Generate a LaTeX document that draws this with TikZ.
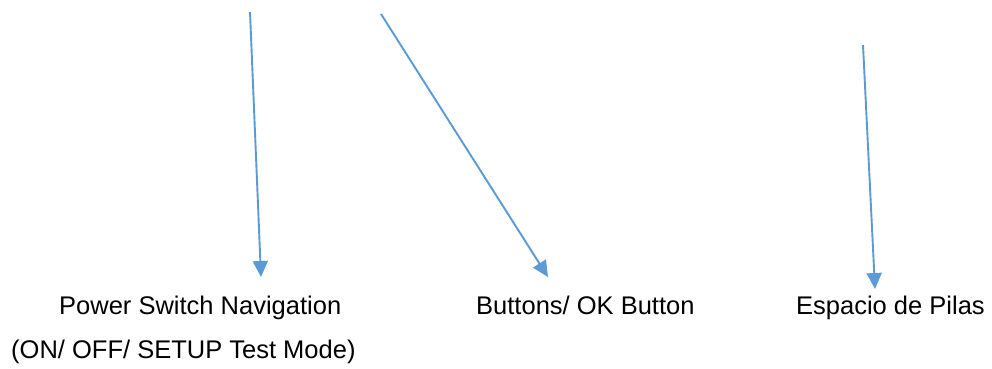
\documentclass[tikz,border=0pt]{standalone}
\usepackage{fontspec}
\setmainfont{Liberation Sans}
\usetikzlibrary{arrows.meta}
\definecolor{callout}{HTML}{5B9BD5}
\tikzset{
  pointer/.style={draw=callout, line width=1.9pt,
    -{Triangle[length=16pt,width=15pt]}},
  caption/.style={anchor=base west, inner sep=0pt,
    font=\fontsize{25.5}{30}\selectfont, text=black}
}
\begin{document}
\begin{tikzpicture}[x=1pt,y=-1pt]
  \useasboundingbox[fill=white] (0,0) rectangle (992,368);

  % labels
  \node[caption] (pwrA) at (59,314) {Power Switch Navigation};
  \node[caption] (pwrB) at (11,358) {(ON/ OFF/ SETUP Test Mode)};
  \node[caption] (btn)  at (476,314) {Buttons/ OK Button};
  \node[caption] (bat)  at (796,314) {Espacio de Pilas};

  % pointer ends
  \coordinate (s1) at (250,12);  \coordinate (t1) at (261,277);
  \coordinate (s2) at (381,14);  \coordinate (t2) at (548,277);
  \coordinate (s3) at (863,45);  \coordinate (t3) at (875,289);

  \draw[pointer] (s1) -- (t1);
  \draw[pointer] (s2) -- (t2);
  \draw[pointer] (s3) -- (t3);
\end{tikzpicture}
\end{document}
